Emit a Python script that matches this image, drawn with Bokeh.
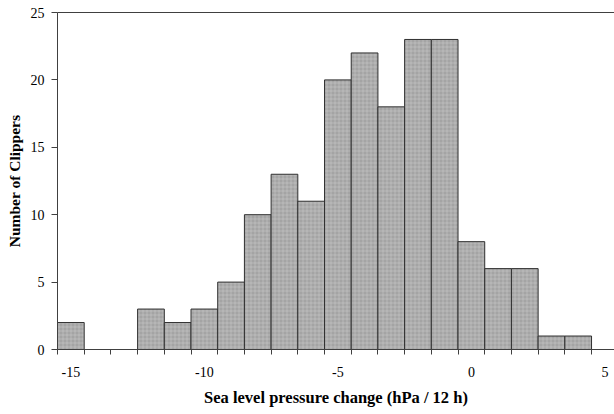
from bokeh.plotting import figure
from bokeh.models import ColumnDataSource, FixedTicker, LinearAxis, Range1d
from bokeh.embed import file_html
from bokeh.resources import INLINE

# Data: histogram bins (hPa / 12 h) and counts
bins = [-15, -14, -13, -12, -11, -10, -9, -8, -7, -6, -5, -4, -3, -2, -1, 0, 1, 2, 3, 4, 5]
counts = [2, 0, 0, 3, 2, 3, 5, 10, 13, 11, 20, 22, 18, 23, 23, 8, 6, 6, 1, 1, 0]
x_tick_labels = [-15, -10, -5, 0, 5]
y_ticks = [0, 5, 10, 15, 20, 25]

FONT = "Liberation Serif"

xs = [b for b, c in zip(bins, counts) if c > 0]
ys = [c for c in counts if c > 0]
src = ColumnDataSource(dict(x=xs, top=ys))

p = figure(width=614, height=414, output_backend="svg", toolbar_location=None,
           x_range=Range1d(-15.5, 5.36), y_range=Range1d(0, 25),
           min_border_left=57, min_border_right=0, min_border_top=12, min_border_bottom=65)
p.outline_line_color = None
p.xgrid.visible = False
p.ygrid.visible = False
p.background_fill_color = "white"
p.border_fill_color = "white"

p.vbar(x="x", top="top", width=1.0, bottom=0, source=src,
       fill_color="#a4a4a4", line_color="#303030", line_width=1,
       hatch_pattern="cross", hatch_color="#c8c8c8", hatch_scale=4,
       hatch_weight=0.8, hatch_alpha=0.7)

# x axis: labels at every 5th bin, minor ticks at bin boundaries
boundaries = [b - 0.5 for b in bins] + [bins[-1] + 0.5]
xa = p.xaxis[0]
xa.ticker = FixedTicker(ticks=x_tick_labels, minor_ticks=boundaries)
xa.major_label_overrides = {t: str(t) for t in x_tick_labels}
xa.major_tick_out = 0
xa.major_tick_in = 0
xa.minor_tick_out = 5
xa.minor_tick_in = 0
xa.minor_tick_line_color = "#404040"
xa.axis_line_color = "#404040"
xa.major_label_text_font = FONT
xa.major_label_text_font_size = "14px"
xa.major_label_text_color = "black"
xa.major_label_standoff = 12
xa.axis_label = "Sea level pressure change (hPa / 12 h)"
xa.axis_label_text_font = FONT
xa.axis_label_text_font_size = "16.5px"
xa.axis_label_text_font_style = "bold"
xa.axis_label_text_color = "black"
xa.axis_label_standoff = 8

ya = p.yaxis[0]
ya.ticker = FixedTicker(ticks=y_ticks, minor_ticks=[])
ya.major_tick_out = 6
ya.major_tick_in = 0
ya.major_tick_line_color = "#404040"
ya.axis_line_color = "#404040"
ya.major_label_text_font = FONT
ya.major_label_text_font_size = "14px"
ya.major_label_text_color = "black"
ya.major_label_standoff = 7
ya.axis_label = "Number of Clippers"
ya.axis_label_text_font = FONT
ya.axis_label_text_font_size = "15.5px"
ya.axis_label_text_font_style = "bold"
ya.axis_label_text_color = "black"
ya.axis_label_standoff = 5

top_axis = LinearAxis(ticker=FixedTicker(ticks=[]), major_label_text_font_size="0px",
                      major_tick_line_color=None, minor_tick_line_color=None,
                      axis_line_color="#404040")
p.add_layout(top_axis, "above")

open("out.html", "w").write(file_html(p, INLINE))
